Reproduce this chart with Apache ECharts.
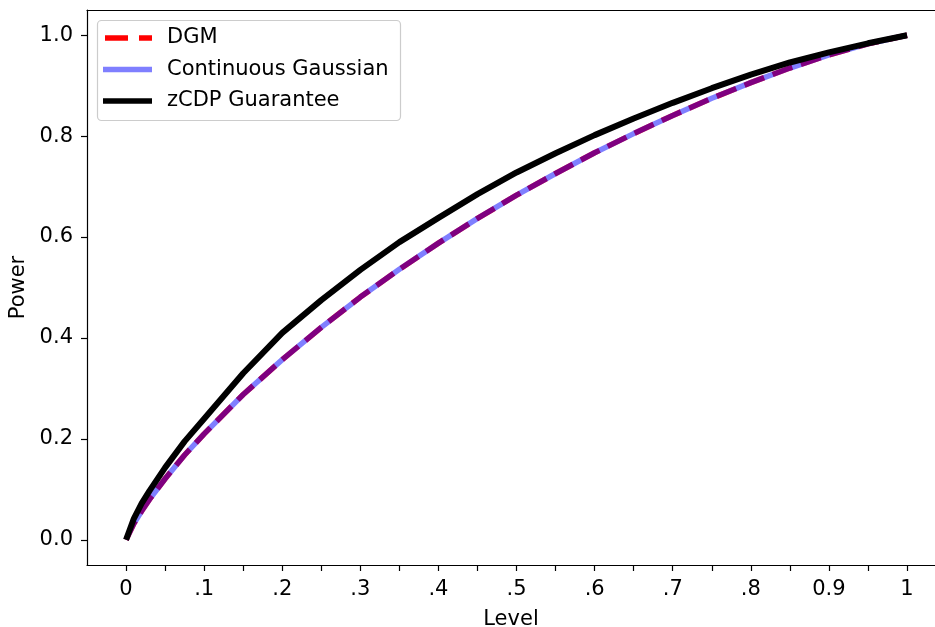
<!DOCTYPE html>
<html>
<head>
<meta charset="utf-8">
<script src="https://cdn.jsdelivr.net/npm/echarts@6/dist/echarts.min.js"></script>
<style>html,body{margin:0;padding:0;background:#fff}#c{width:935px;height:627px}</style>
</head>
<body>
<div id="c"></div>
<script>
const levels = [0, 0.01, 0.02, 0.03, 0.05, 0.075, 0.1, 0.15, 0.2, 0.25, 0.3, 0.35, 0.4, 0.45, 0.5, 0.55, 0.6, 0.65, 0.7, 0.75, 0.8, 0.85, 0.9, 0.95, 1.0];
const dgmPower = [0, 0.032, 0.057, 0.080, 0.121, 0.168, 0.21, 0.288, 0.357, 0.421, 0.481, 0.536, 0.588, 0.637, 0.683, 0.726, 0.767, 0.805, 0.841, 0.875, 0.906, 0.935, 0.961, 0.983, 1.0];
const gaussPower = [0, 0.032, 0.057, 0.080, 0.121, 0.168, 0.21, 0.288, 0.357, 0.421, 0.481, 0.536, 0.588, 0.637, 0.683, 0.726, 0.767, 0.805, 0.841, 0.875, 0.906, 0.935, 0.961, 0.983, 1.0];
const zcdpPower = [0, 0.042, 0.072, 0.097, 0.143, 0.195, 0.24, 0.33, 0.41, 0.475, 0.535, 0.59, 0.638, 0.685, 0.728, 0.766, 0.802, 0.835, 0.866, 0.895, 0.922, 0.946, 0.966, 0.984, 1.0];
const xTickValues = [0, 0.05, 0.1, 0.15, 0.2, 0.25, 0.3, 0.35, 0.4, 0.45, 0.5, 0.55, 0.6, 0.65, 0.7, 0.75, 0.8, 0.85, 0.9, 0.95, 1.0];
const xLabelValues = [0, 0.1, 0.2, 0.3, 0.4, 0.5, 0.6, 0.7, 0.8, 0.9, 1.0];
const xLabelTexts = ["0", ".1", ".2", ".3", ".4", ".5", ".6", ".7", ".8", "0.9", "1"];
const yTickValues = [0, 0.2, 0.4, 0.6, 0.8, 1.0];
const yLabelTexts = ["0.0", "0.2", "0.4", "0.6", "0.8", "1.0"];
const seriesNames = ['DGM', 'Continuous Gaussian', 'zCDP Guarantee'];

const pair = (xs, ys) => xs.map((x, i) => [x, ys[i]]);
const font = "DejaVu Sans";
const fs = 21;
const dash = [21, 9];
const chart = echarts.init(document.getElementById('c'), null, {renderer: 'canvas'});

const legendRows = [
  {name: seriesNames[0], stroke: '#ff0000', opacity: 1, dash: [23, 11], x1: 105},
  {name: seriesNames[1], stroke: '#0000ff', opacity: 0.5, dash: null, x1: 103},
  {name: seriesNames[2], stroke: '#000000', opacity: 1, dash: null, x1: 103}
];
const legendChildren = [{
  type: 'rect', shape: {x: 97.5, y: 20.5, width: 303, height: 100, r: 4},
  style: {fill: 'rgba(255,255,255,0.8)', stroke: '#cccccc', lineWidth: 1.2}
}];
legendRows.forEach((r, i) => {
  const cy = 38 + i * 31.5;
  legendChildren.push({
    type: 'line', shape: {x1: r.x1, y1: cy, x2: 152, y2: cy},
    style: {stroke: r.stroke, lineWidth: 5.5, opacity: r.opacity, lineDash: r.dash}
  });
  legendChildren.push({
    type: 'text', x: 167, y: cy,
    style: {text: r.name, font: fs + 'px "' + font + '"', fill: '#000', verticalAlign: 'middle', align: 'left'}
  });
});

chart.setOption({
  animation: false,
  backgroundColor: '#fff',
  textStyle: {fontFamily: font},
  grid: {left: 87, right: 0, top: 10, bottom: 62, containLabel: false, outerBoundsMode: 'none'},
  xAxis: [{
    type: 'value', min: -0.05, max: 1.0358,
    name: 'Level', nameLocation: 'middle', nameGap: 44,
    nameTextStyle: {fontFamily: font, fontSize: fs, color: '#000'},
    axisLine: {show: true, onZero: false, lineStyle: {color: '#000', width: 1.2}},
    axisTick: {show: true, length: 6, lineStyle: {color: '#000', width: 1.2}, customValues: xTickValues},
    axisLabel: {fontFamily: font, fontSize: fs, color: '#000', margin: 14, customValues: xLabelValues,
      formatter: v => { const i = Math.round(v * 10); return xLabelTexts[i] !== undefined ? xLabelTexts[i] : ''; }},
    splitLine: {show: false}
  }, {
    type: 'value', position: 'top', min: -0.05, max: 1.0358,
    axisLine: {show: true, onZero: false, lineStyle: {color: '#000', width: 1.2}},
    axisTick: {show: false}, axisLabel: {show: false}, splitLine: {show: false}
  }],
  yAxis: [{
    type: 'value', min: -0.05, max: 1.05,
    name: 'Power', nameLocation: 'middle', nameGap: 58, nameRotate: 90,
    nameTextStyle: {fontFamily: font, fontSize: fs, color: '#000'},
    axisLine: {show: true, onZero: false, lineStyle: {color: '#000', width: 1.2}},
    axisTick: {show: true, length: 6, lineStyle: {color: '#000', width: 1.2}, customValues: yTickValues},
    axisLabel: {fontFamily: font, fontSize: fs, color: '#000', margin: 14, customValues: yTickValues,
      formatter: v => { const i = Math.round(v * 5); return yLabelTexts[i] !== undefined ? yLabelTexts[i] : ''; }},
    splitLine: {show: false}
  }],
  graphic: [{type: 'group', z: 100, children: legendChildren}],
  series: [{
    name: seriesNames[0], type: 'line', data: pair(levels, dgmPower),
    symbol: 'none', color: '#ff0000',
    lineStyle: {color: '#ff0000', width: 5.5, type: dash, cap: 'butt'}
  }, {
    name: seriesNames[1], type: 'line', data: pair(levels, gaussPower),
    symbol: 'none', color: '#0000ff',
    lineStyle: {color: '#0000ff', width: 5.5, opacity: 0.5}
  }, {
    name: seriesNames[2], type: 'line', data: pair(levels, zcdpPower),
    symbol: 'none', color: '#000',
    lineStyle: {color: '#000', width: 6}
  }]
});
</script>
</body>
</html>
